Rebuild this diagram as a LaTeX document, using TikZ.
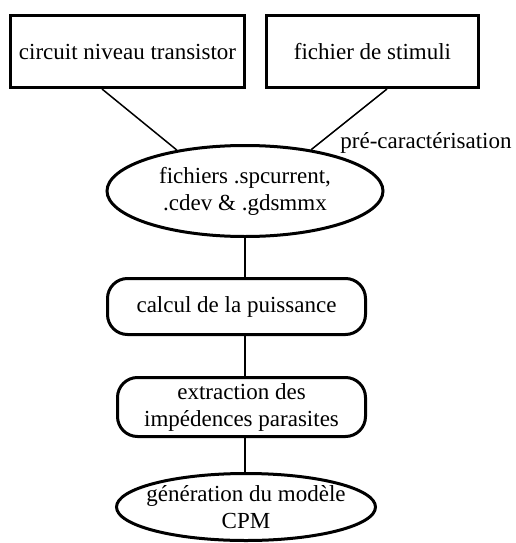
\documentclass[tikz,border=0pt]{standalone}
\usepackage{fontspec}
\setmainfont{Liberation Serif}
\usetikzlibrary{shapes.geometric}

\begin{document}
\begin{tikzpicture}[x=1pt,y=-1pt,
	txt/.style={font=\fontsize{23}{27}\selectfont,align=center},
	boite/.style={txt,draw,line width=3pt,inner sep=0pt,minimum height=72pt},
	etape/.style={txt,draw,line width=3pt,rounded corners=20pt,inner sep=0pt},
	bulle/.style={txt,draw,ellipse,line width=3pt,inner xsep=-20pt,inner ysep=-2pt},
	lien/.style={line width=1.5pt}]
	\useasboundingbox (0,0) rectangle (516,543);
	\node [boite,minimum width=234pt] (circ) at (127.5,51.5) {circuit niveau transistor};
	\node [boite,minimum width=212pt] (stim) at (372.5,51.5) {fichier de stimuli};
	\node [bulle,minimum width=276pt,minimum height=91pt] (fich) at (245,191) {fichiers .spcurrent,\\.cdev \& .gdsmmx};
	\node [txt] (prec) at (426,143) {pré-caractérisation};
	\node [etape,minimum width=258pt,minimum height=56pt] (calc) at (236.5,306.5) {calcul de la puissance};
	\node [etape,minimum width=248pt,minimum height=59pt] (extr) at (241.5,407) {extraction des\\impédences parasites};
	\node [bulle,minimum width=259pt,minimum height=67pt] (gen) at (246,507) {génération du modèle\\CPM};
	\draw [lien] ([xshift=-25.5pt]circ.south)--(fich.149);
	\draw [lien] ([xshift=14.5pt]stim.south)--(fich.32);
	\draw [lien] (fich.south)--(fich.south |- calc.north);
	\draw [lien] (fich.south |- calc.south)--(fich.south |- extr.north);
	\draw [lien] (fich.south |- extr.south)--(fich.south |- gen.north);
\end{tikzpicture}
\end{document}
